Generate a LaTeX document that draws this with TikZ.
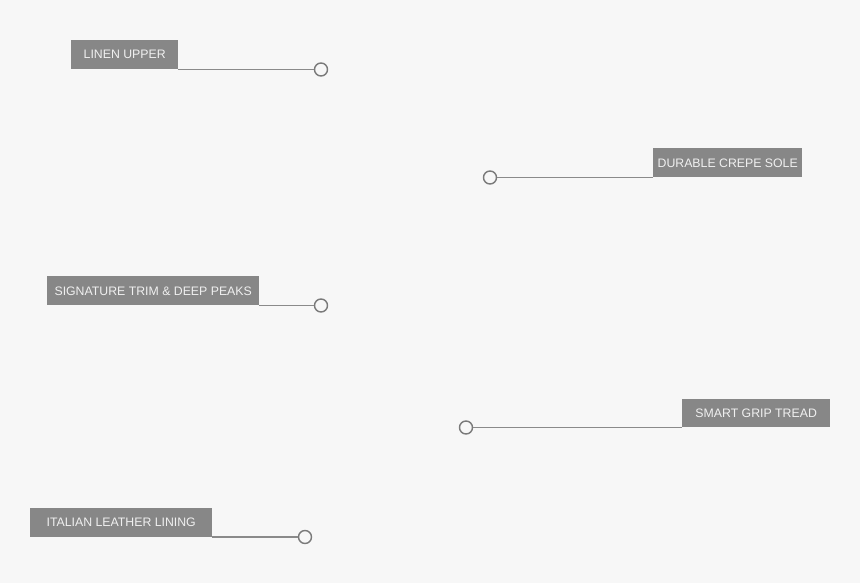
\documentclass[tikz,border=0pt]{standalone}
\usepackage{fontspec}
\setmainfont{Liberation Sans}
\usepackage{tikz}
\usetikzlibrary{positioning}
\definecolor{paper}{HTML}{F7F7F7}
\definecolor{tagbox}{HTML}{878787}
\definecolor{leader}{HTML}{8A8A8A}
\definecolor{ring}{HTML}{7A7A7A}

\tikzset{
  tag/.style={fill=tagbox, text=white!94!black, inner sep=0pt, minimum height=29pt,
    font=\fontsize{12.3}{14}\selectfont, anchor=south west},
  pin/.style={circle, draw=ring, fill=paper, line width=1.4pt, minimum size=13pt, inner sep=0pt},
  lead/.style={draw=leader, line width=1.2pt}
}

\begin{document}
\begin{tikzpicture}[x=1pt, y=-1pt]
    % Hintergrund: 860 x 583
    \fill[paper] (0,0) rectangle (860,583);
    \useasboundingbox (0,0) rectangle (860,583);
    % linke Seite
    \node[tag, minimum width=107pt] (upper)  at (71,69.5)  {LINEN UPPER};
    \node[pin] (upperpin) at (321,69.5) {};
    \node[tag, minimum width=212pt] (trim)   at (47,305.5) {SIGNATURE TRIM \& DEEP PEAKS};
    \node[pin] (trimpin)  at (321,305.5) {};
    \node[tag, minimum width=182pt] (lining) at (30,537)   {ITALIAN LEATHER LINING};
    \node[pin] (liningpin) at (305,537) {};
    % rechte Seite
    \node[tag, minimum width=149pt] (sole)   at (653,177.5) {DURABLE CREPE SOLE};
    \node[pin] (solepin)  at (490,177.5) {};
    \node[tag, minimum width=148pt, minimum height=28pt] (tread) at (682,427.5) {SMART GRIP TREAD};
    \node[pin] (treadpin) at (466,427.5) {};
    % Linien
    \draw[lead] (upper.south east)  -- (upperpin.west);
    \draw[lead] (trim.south east)   -- (trimpin.west);
    \draw[lead] (lining.south east) -- (liningpin.west);
    \draw[lead] (sole.south west)   -- (solepin.east);
    \draw[lead] (tread.south west)  -- (treadpin.east);
  \end{tikzpicture}
\end{document}
